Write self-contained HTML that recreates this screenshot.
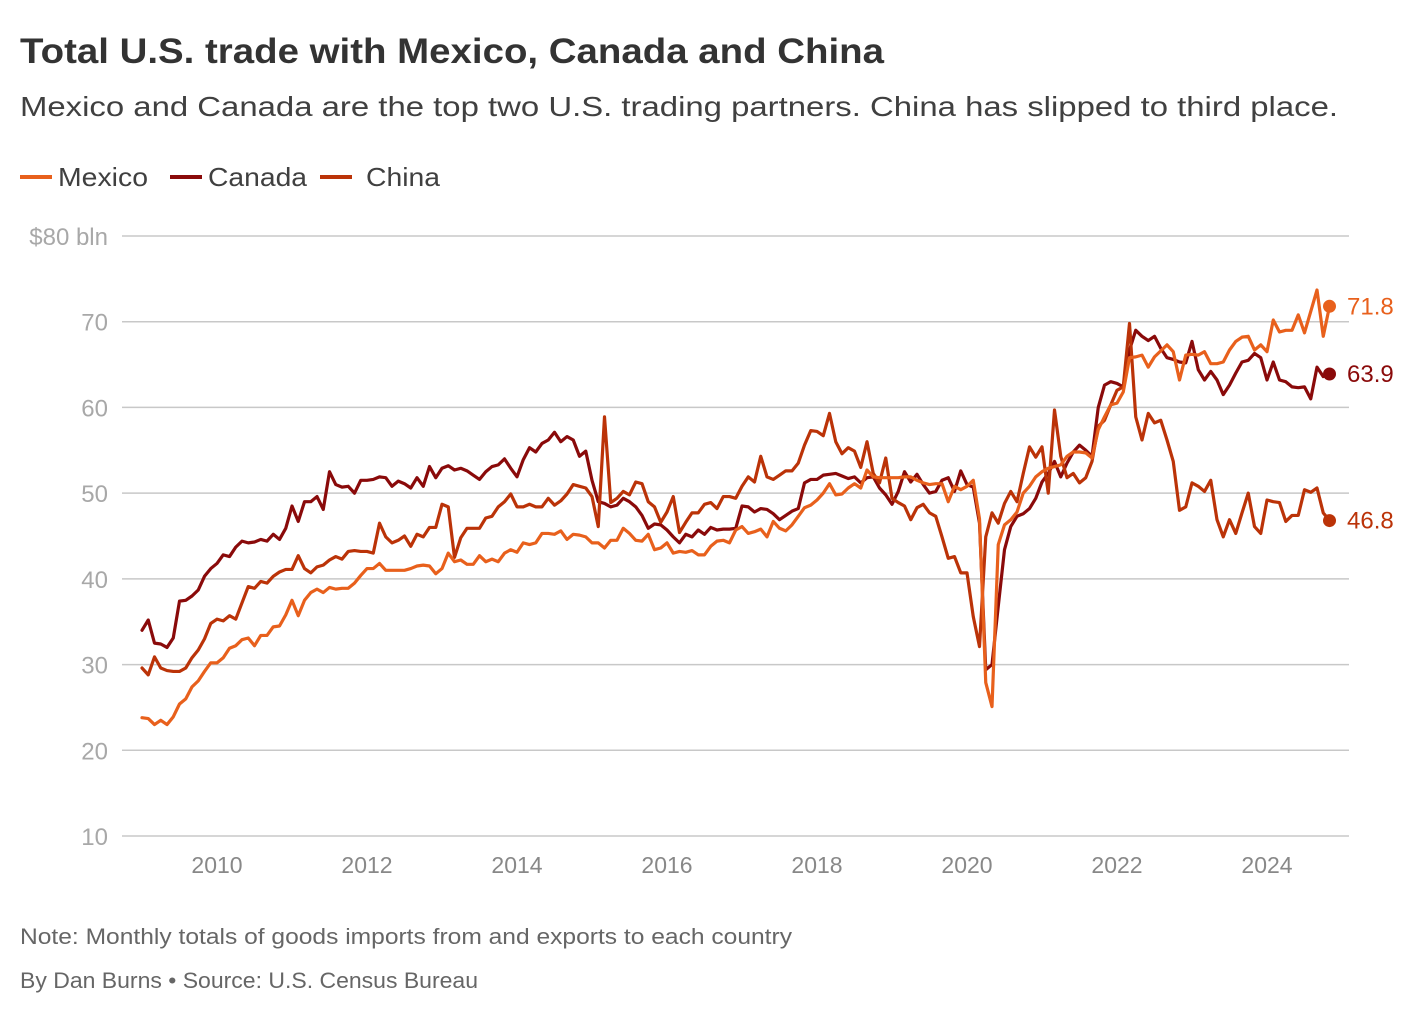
<!DOCTYPE html>
<html><head><meta charset="utf-8"><style>
html,body{margin:0;padding:0;background:#fff;}
svg{display:block;font-family:"Liberation Sans",sans-serif;}
</style></head><body>
<svg id="chart" width="1420" height="1014" viewBox="0 0 1420 1014" xmlns="http://www.w3.org/2000/svg">
<text x="20" y="63" font-size="35" font-weight="bold" fill="#333" textLength="864" lengthAdjust="spacingAndGlyphs">Total U.S. trade with Mexico, Canada and China</text>
<text x="20" y="116" font-size="28" fill="#404040" textLength="1318" lengthAdjust="spacingAndGlyphs">Mexico and Canada are the top two U.S. trading partners. China has slipped to third place.</text>
<g>
<g><line x1="20" y1="177" x2="52" y2="177" stroke="#e8601c" stroke-width="4"/><text x="58" y="186" font-size="26" fill="#404040" textLength="90" lengthAdjust="spacingAndGlyphs">Mexico</text></g>
<g><line x1="170" y1="177" x2="202" y2="177" stroke="#8a0a0a" stroke-width="4"/><text x="208" y="186" font-size="26" fill="#404040" textLength="99" lengthAdjust="spacingAndGlyphs">Canada</text></g>
<g><line x1="320" y1="177" x2="352" y2="177" stroke="#bb3308" stroke-width="4"/><text x="366" y="186" font-size="26" fill="#404040" textLength="74" lengthAdjust="spacingAndGlyphs">China</text></g>
</g>
<g id="grid"></g>
<g id="yticks"></g>
<g id="xticks"></g>
<g id="series"></g>
<g id="ends"></g>
<text x="20" y="944" font-size="22" fill="#666" textLength="772" lengthAdjust="spacingAndGlyphs">Note: Monthly totals of goods imports from and exports to each country</text>
<text x="20" y="988" font-size="22" fill="#666" textLength="458" lengthAdjust="spacingAndGlyphs">By Dan Burns • Source: U.S. Census Bureau</text>
</svg>
<script>
const yTicks = [10,20,30,40,50,60,70,80];
const xTickYears = [2010,2012,2014,2016,2018,2020,2022,2024];
const startYear = 2009;
const mexico = [
23.8,23.7,23.0,23.5,23.0,23.9,25.4,26.0,27.4,28.1,29.2,30.2,
30.2,30.8,31.9,32.2,32.9,33.1,32.2,33.4,33.4,34.4,34.5,35.8,
37.5,35.7,37.5,38.4,38.8,38.4,39.0,38.8,38.9,38.9,39.5,40.4,
41.2,41.2,41.8,41.0,41.0,41.0,41.0,41.2,41.5,41.6,41.5,40.6,
41.2,43.0,42.0,42.2,41.7,41.7,42.7,42.0,42.3,42.0,43.0,43.4,
43.1,44.2,44.0,44.2,45.3,45.3,45.2,45.6,44.6,45.2,45.1,44.9,
44.2,44.2,43.6,44.5,44.5,45.9,45.3,44.5,44.4,45.2,43.4,43.6,
44.2,43.0,43.2,43.1,43.3,42.8,42.8,43.8,44.4,44.5,44.2,45.7,
46.1,45.3,45.5,45.8,44.9,46.7,45.9,45.6,46.3,47.3,48.3,48.6,
49.2,50.0,51.1,49.8,49.9,50.6,51.1,50.6,52.7,51.9,51.8,51.8,
51.8,51.8,51.9,51.9,51.5,51.2,51.0,51.1,51.1,49.0,50.8,50.4,
50.8,51.5,47.0,27.9,25.1,44.0,46.3,46.9,47.8,50.0,50.8,51.9,
52.5,52.9,53.1,53.3,54.3,54.8,54.8,54.7,54.1,57.4,58.9,60.3,
60.5,61.8,65.8,65.9,66.1,64.7,65.9,66.6,67.3,66.5,63.2,66.1,
66.2,66.1,66.5,65.1,65.1,65.3,66.7,67.7,68.2,68.3,66.7,67.3,
66.5,70.2,68.8,69.0,69.0,70.8,68.7,71.2,73.7,68.3,71.8];
const canada = [
34.0,35.2,32.5,32.4,32.0,33.1,37.4,37.5,38.0,38.7,40.3,41.2,
41.8,42.8,42.6,43.7,44.4,44.2,44.3,44.6,44.4,45.2,44.6,45.9,
48.5,46.7,49.0,49.0,49.6,48.1,52.5,51.0,50.7,50.8,50.0,51.5,
51.5,51.6,51.9,51.8,50.8,51.4,51.1,50.6,51.8,50.8,53.1,51.8,
52.9,53.2,52.7,52.9,52.6,52.1,51.6,52.5,53.1,53.3,54.0,52.9,
51.9,53.9,55.3,54.8,55.8,56.2,57.1,56.0,56.6,56.2,54.3,54.9,
51.5,49.0,48.8,48.4,48.6,49.4,49.0,48.4,47.4,45.9,46.4,46.3,
45.7,44.9,44.2,45.2,44.9,45.7,45.2,46.0,45.7,45.8,45.8,45.9,
48.5,48.4,47.8,48.2,48.1,47.6,46.9,47.4,47.9,48.2,51.2,51.6,
51.6,52.1,52.2,52.3,52.0,51.7,51.9,51.2,51.8,51.9,50.6,49.8,
48.7,50.2,52.5,51.3,52.2,51.0,50.0,50.2,51.5,51.8,50.2,52.6,
51.0,50.7,46.5,29.4,30.0,36.8,43.4,46.1,47.3,47.6,48.2,49.4,
51.3,52.3,53.7,51.9,53.5,54.8,55.6,55.0,54.3,60.0,62.6,63.0,
62.8,62.4,66.7,69.0,68.3,67.8,68.3,66.9,65.8,65.6,65.3,65.2,
67.7,64.4,63.2,64.2,63.2,61.5,62.6,64.0,65.3,65.5,66.3,65.8,
63.2,65.3,63.2,63.0,62.4,62.3,62.4,61.0,64.7,63.6,63.9];
const china = [
29.6,28.8,30.9,29.6,29.3,29.2,29.2,29.6,30.8,31.7,33.0,34.8,
35.3,35.1,35.7,35.3,37.2,39.1,38.9,39.7,39.5,40.3,40.8,41.1,
41.1,42.7,41.2,40.7,41.4,41.6,42.2,42.6,42.3,43.2,43.3,43.2,
43.2,43.0,46.5,44.9,44.2,44.5,45.0,43.8,45.2,44.9,46.0,46.0,
48.7,48.4,42.5,44.8,45.9,45.9,45.9,47.1,47.3,48.4,49.0,49.9,
48.4,48.4,48.7,48.4,48.4,49.4,48.6,49.1,49.9,51.0,50.8,50.6,
49.6,46.1,58.9,48.9,49.4,50.2,49.8,51.3,51.1,49.0,48.4,46.6,
47.8,49.6,45.4,46.6,47.7,47.7,48.7,48.9,48.2,49.6,49.6,49.4,
50.8,51.9,51.3,54.3,51.9,51.6,52.1,52.6,52.6,53.5,55.6,57.3,
57.2,56.7,59.3,56.0,54.6,55.3,54.9,53.0,56.0,52.3,51.2,54.1,
49.4,48.9,48.5,46.9,48.3,48.7,47.7,47.3,44.9,42.4,42.6,40.7,
40.7,35.6,32.1,44.9,47.7,46.5,48.8,50.2,49.0,52.3,55.4,54.2,
55.4,50.0,59.7,54.3,51.8,52.3,51.2,51.8,53.7,57.8,58.5,60.3,
62.0,62.4,69.8,58.9,56.2,59.3,58.2,58.5,56.2,53.7,48.0,48.4,
51.2,50.8,50.2,51.5,46.9,44.9,46.9,45.3,47.7,50.0,46.1,45.3,
49.2,49.0,48.9,46.7,47.4,47.4,50.4,50.1,50.6,47.7,46.8];

const NS = "http://www.w3.org/2000/svg";
const X0 = 142, PX_PER_MONTH = 6.25, Y80 = 236, PX_PER_UNIT = 600/70;
function xScale(i){ return X0 + i*PX_PER_MONTH; }
function yScale(v){ return Y80 + (80 - v)*PX_PER_UNIT; }
function mk(tag, attrs){ const e = document.createElementNS(NS, tag); for (const k in attrs) e.setAttribute(k, attrs[k]); return e; }

const grid = document.getElementById('grid');
const yt = document.getElementById('yticks');
yTicks.forEach(v => {
  const l = mk('line', {x1:122, x2:1349, y1:yScale(v), y2:yScale(v), stroke:'#c8c8c8', 'stroke-width':1.5});
  
  
  grid.appendChild(l);
  const t = mk('text', {x:108, y:yScale(v)+9, 'font-size':24, fill:'#a8a8a8', 'text-anchor':'end'});
  t.textContent = v === 80 ? '$80 bln' : String(v);
  
  
  yt.appendChild(t);
});
const xt = document.getElementById('xticks');
xTickYears.forEach(yr => {
  const t = mk('text', {x:xScale((yr-startYear)*12), y:873, 'font-size':23, fill:'#888', 'text-anchor':'middle'});
  t.textContent = String(yr);
  
  
  xt.appendChild(t);
});

const series = [
  {name:'canada', data:canada, color:'#8a0a0a'},
  {name:'china', data:china, color:'#bb3308'},
  {name:'mexico', data:mexico, color:'#e8601c'}
];
const sg = document.getElementById('series');
const eg = document.getElementById('ends');
series.forEach(s => {
  const pts = s.data.map((v,i) => xScale(i).toFixed(2)+','+yScale(v).toFixed(2)).join(' ');
  const p = mk('polyline', {points:pts, fill:'none', stroke:s.color, 'stroke-width':3.2, 'stroke-linejoin':'round', 'stroke-linecap':'round'});
  
  
  sg.appendChild(p);
  const n = s.data.length - 1, last = s.data[n];
  const c = mk('circle', {cx:xScale(n), cy:yScale(last), r:6.5, fill:s.color});
  
  
  eg.appendChild(c);
  const t = mk('text', {x:1347, y:yScale(last)+8, 'font-size':24, fill:s.color});
  t.textContent = last.toFixed(1);
  
  
  eg.appendChild(t);
});
</script>
</body></html>
